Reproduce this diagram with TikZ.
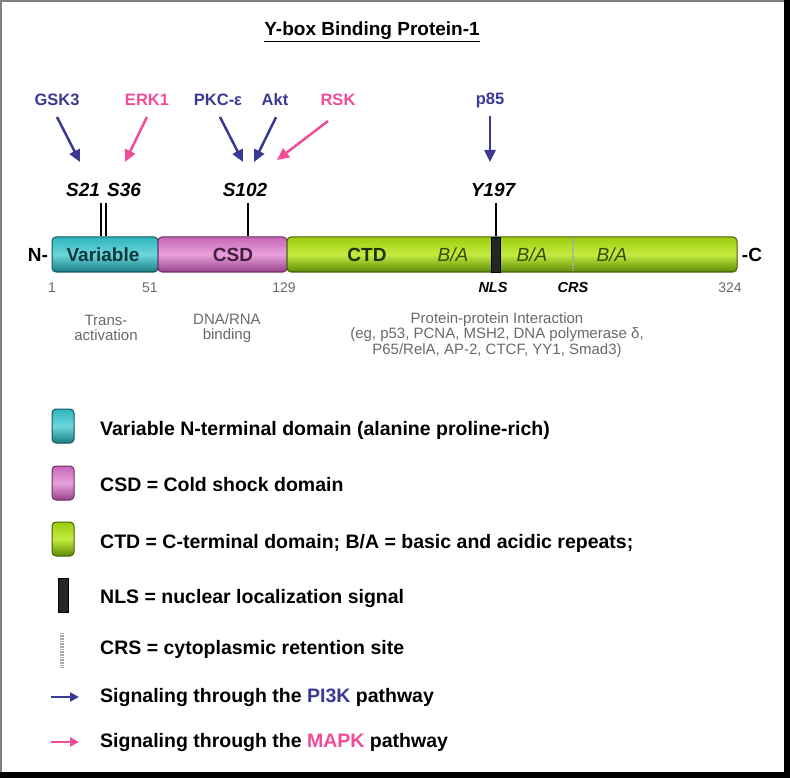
\documentclass[tikz,border=0pt]{standalone}
\usepackage{fontspec}
\setmainfont{Liberation Sans}
\usetikzlibrary{arrows.meta}

\definecolor{kinblue}{HTML}{3A3A94}
\definecolor{kinpink}{HTML}{F04C98}
\definecolor{varmid}{HTML}{30B4BC}
\definecolor{varlight}{HTML}{6CD6DE}
\definecolor{vardark}{HTML}{1A7C84}
\definecolor{csdmid}{HTML}{C866B8}
\definecolor{csdlight}{HTML}{E8A0DC}
\definecolor{csddark}{HTML}{98428C}
\definecolor{ctdmid}{HTML}{9CCC10}
\definecolor{ctdlight}{HTML}{C4EC40}
\definecolor{ctddark}{HTML}{5E8A06}
\definecolor{txtgray}{HTML}{6A6A6A}

\tikzset{
  dom/.style={line width=1pt, rounded corners=4pt, inner sep=0pt, minimum height=35pt},
  vardom/.style={dom, draw=vardark!70!black, top color=varmid, bottom color=vardark, middle color=varlight},
  csddom/.style={dom, draw=csddark!70!black, top color=csdmid, bottom color=csddark, middle color=csdlight},
  ctddom/.style={dom, draw=ctddark!70!black, top color=ctdmid, bottom color=ctddark, middle color=ctdlight},
  swatch/.style={minimum width=22pt, minimum height=34pt},
  kinase/.style={inner sep=0pt, font=\fontsize{16.5}{18}\selectfont\bfseries},
  site/.style={inner sep=0pt, font=\fontsize{19}{20}\selectfont\bfseries\itshape},
  domtext/.style={inner sep=0pt, font=\fontsize{19}{20}\selectfont\bfseries},
  batext/.style={inner sep=0pt, text=ctddark!55!black, font=\fontsize{19}{20}\selectfont\itshape},
  numtext/.style={inner sep=0pt, text=txtgray, font=\fontsize{14}{16}\selectfont},
  motif/.style={inner sep=0pt, font=\fontsize{14.5}{16}\selectfont\bfseries\itshape},
  desc/.style={inner sep=0pt, align=center, text=txtgray, font=\fontsize{15}{15.5}\selectfont},
  legtext/.style={inner sep=0pt, anchor=west, font=\fontsize{19.5}{21}\selectfont\bfseries},
  crsline/.style={draw=gray!70, dash pattern=on 1pt off 0.6pt},
  tick/.style={line width=2pt},
  blarr/.style={draw=kinblue, line width=2.5pt, -{Triangle[length=12pt,width=11pt]}},
  pkarr/.style={draw=kinpink, line width=2.5pt, -{Triangle[length=12pt,width=11pt]}}
}

\begin{document}
\begin{tikzpicture}[x=1pt, y=-1pt]
  \useasboundingbox (0,0) rectangle (790,778);
  % frame
  \fill[white] (0,0) rectangle (790,778);
  \draw[gray, line width=2pt] (1,778) -- (1,1) -- (790,1);
  \fill[black] (784,0) rectangle (790,778);
  \fill[black] (0,772) rectangle (790,778);

  \node (title) at (372,32) [inner sep=0pt, font=\fontsize{19}{21}\selectfont\bfseries] {\underline{Y-box Binding Protein-1}};

  % kinases
  \node[kinase, text=kinblue] (gsk) at (57,100) {GSK3};
  \node[kinase, text=kinpink] (erk) at (147,100) {ERK1};
  \node[kinase, text=kinblue] (pkc) at (218,100) {PKC-ε};
  \node[kinase, text=kinblue] (akt) at (275,100) {Akt};
  \node[kinase, text=kinpink] (rsk) at (338,100) {RSK};
  \node[kinase, text=kinblue] (p85) at (490,100) {p85};

  \coordinate (a21) at (80,162);
  \coordinate (a36) at (125,162);
  \coordinate (apkc) at (243,162);
  \coordinate (aakt) at (254,162);
  \coordinate (arsk) at (277,160);
  \coordinate (ap85) at (490,162);

  \draw[blarr] ([yshift=-11pt]gsk.south) -- (a21);
  \draw[pkarr] ([yshift=-11pt]erk.south) -- (a36);
  \draw[blarr] ([xshift=2pt,yshift=-11pt]pkc.south) -- (apkc);
  \draw[blarr] ([xshift=1pt,yshift=-11pt]akt.south) -- (aakt);
  \draw[pkarr] ([xshift=-10pt,yshift=-15pt]rsk.south) -- (arsk);
  \draw[blarr] ([yshift=-8pt]p85.south) -- (ap85);

  % phospho sites
  \node[site] (s21) at (83,190) {S21};
  \node[site] (s36) at (124,190) {S36};
  \node[site] (s102) at (245,190) {S102};
  \node[site] (y197) at (493,190) {Y197};

  % domain bar
  \node[vardom, minimum width=106pt] (var) at (105,254.5) {};
  \node[csddom, minimum width=129pt] (csd) at (222.5,254.5) {};
  \node[ctddom, minimum width=450pt] (ctd) at (512,254.5) {};
  \node[fill=black!85, draw=black, inner sep=0pt, minimum width=9pt, minimum height=35pt] (nls) at (495.5,254.5) {};
  \draw[crsline, line width=2.4pt] (573,238) -- (573,271);

  \node[domtext, text=vardark!45!black] (vartxt) at (103,255) {Variable};
  \node[domtext, text=csddark!45!black] (csdtxt) at (233,255) {CSD};
  \node[domtext, text=ctddark!35!black] (ctdtxt) at (367,255) {CTD};
  \node[batext] (ba1) at (453,255) {B/A};
  \node[batext] (ba2) at (532,255) {B/A};
  \node[batext] (ba3) at (612,255) {B/A};
  \node[domtext] (nterm) at (38,255) {N-};
  \node[domtext] (cterm) at (752,255) {-C};

  \coordinate (t21) at (101,203);
  \coordinate (t36) at (106,203);
  \coordinate (t102) at (248,203);
  \coordinate (t197) at (496,203);
  \draw[tick] (t21) -- (t21 |- var.north);
  \draw[tick] (t36) -- (t36 |- var.north);
  \draw[tick] (t102) -- (t102 |- csd.north);
  \draw[tick] (t197) -- (t197 |- ctd.north);

  % residue numbers
  \node[numtext] (n1) at (52,288) {1};
  \node[numtext] (n51) at (150,288) {51};
  \node[numtext] (n129) at (284,288) {129};
  \node[numtext] (n324) at (730,288) {324};
  \node[motif] (nlstxt) at (493,288) {NLS};
  \node[motif] (crstxt) at (573,288) {CRS};

  \node[desc] (trans) at (106,328) {Trans-\\activation};
  \node[desc] (dnarna) at (227,328) {DNA/RNA\\binding};
  \node[desc] (ppi) at (497,335) {Protein-protein Interaction\\(eg, p53, PCNA, MSH2, DNA polymerase δ,\\P65/RelA, AP-2, CTCF, YY1, Smad3)};

  % legend
  \node[vardom, swatch] (sw1) at (63,426) {};
  \node[csddom, swatch] (sw2) at (63,483) {};
  \node[ctddom, swatch] (sw3) at (63,539) {};
  \node[fill=black!85, draw=black, inner sep=0pt, minimum width=10pt, minimum height=34pt] (sw4) at (63,595) {};
  \draw[crsline, line width=3.5pt] (62,633) -- (62,667);
  \coordinate (lb1) at (51,697);
  \coordinate (lb2) at (79,697);
  \coordinate (lp1) at (51,742);
  \coordinate (lp2) at (79,742);
  \draw[blarr, -{Triangle[length=9pt,width=9pt]}] (lb1) -- (lb2);
  \draw[pkarr, -{Triangle[length=9pt,width=9pt]}] (lp1) -- (lp2);

  \node[legtext] (l1) at (100,430) {Variable N-terminal domain (alanine proline-rich)};
  \node[legtext] (l2) at (100,485) {CSD = Cold shock domain};
  \node[legtext] (l3) at (100,543) {CTD = C-terminal domain; B/A = basic and acidic repeats;};
  \node[legtext] (l4) at (100,598) {NLS = nuclear localization signal};
  \node[legtext] (l5) at (100,649) {CRS = cytoplasmic retention site};
  \node[legtext] (l6) at (100,697) {Signaling through the \textcolor{kinblue}{PI3K} pathway};
  \node[legtext] (l7) at (100,742) {Signaling through the \textcolor{kinpink}{MAPK} pathway};
\end{tikzpicture}
\end{document}
